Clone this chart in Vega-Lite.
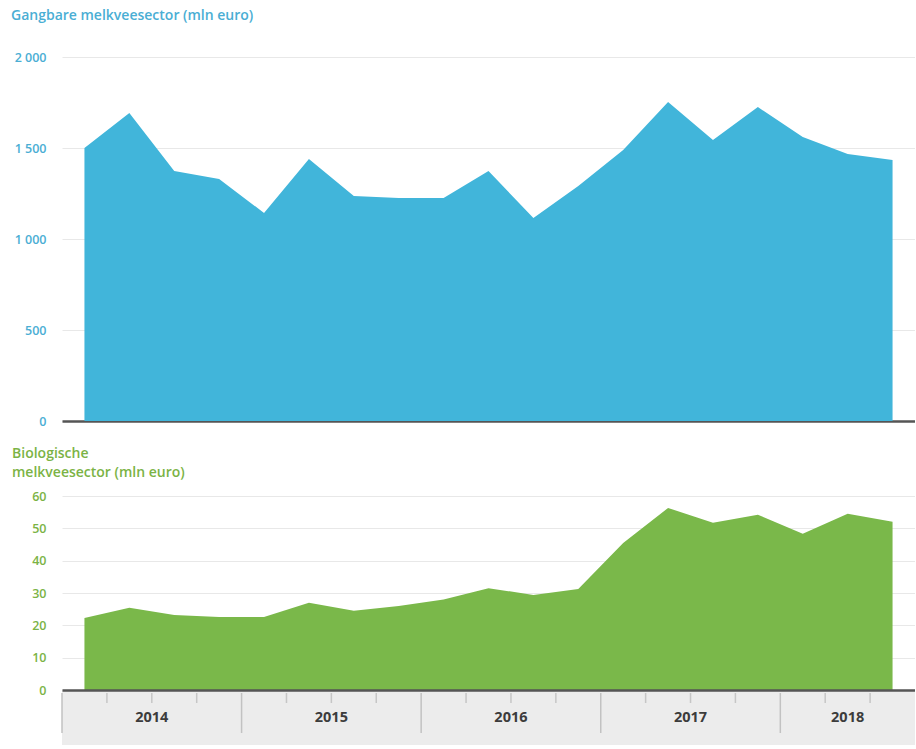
{
  "$schema": "https://vega.github.io/schema/vega-lite/v6.json",
  "padding": {"left": 5, "top": 8, "right": 0, "bottom": 0},
  "background": "white",
  "spacing": 19,
  "config": {
    "view": {"stroke": null},
    "font": "Open Sans",
    "axis": {"labelFont": "Open Sans"}
  },
  "datasets": {
    "gangbaar": [
      {"jaar": 2014, "kwartaal": 1, "t": 2014.125, "waarde": 1500},
      {"jaar": 2014, "kwartaal": 2, "t": 2014.375, "waarde": 1692},
      {"jaar": 2014, "kwartaal": 3, "t": 2014.625, "waarde": 1374},
      {"jaar": 2014, "kwartaal": 4, "t": 2014.875, "waarde": 1330},
      {"jaar": 2015, "kwartaal": 1, "t": 2015.125, "waarde": 1143},
      {"jaar": 2015, "kwartaal": 2, "t": 2015.375, "waarde": 1440},
      {"jaar": 2015, "kwartaal": 3, "t": 2015.625, "waarde": 1236},
      {"jaar": 2015, "kwartaal": 4, "t": 2015.875, "waarde": 1225},
      {"jaar": 2016, "kwartaal": 1, "t": 2016.125, "waarde": 1225},
      {"jaar": 2016, "kwartaal": 2, "t": 2016.375, "waarde": 1374},
      {"jaar": 2016, "kwartaal": 3, "t": 2016.625, "waarde": 1115},
      {"jaar": 2016, "kwartaal": 4, "t": 2016.875, "waarde": 1291},
      {"jaar": 2017, "kwartaal": 1, "t": 2017.125, "waarde": 1489},
      {"jaar": 2017, "kwartaal": 2, "t": 2017.375, "waarde": 1753},
      {"jaar": 2017, "kwartaal": 3, "t": 2017.625, "waarde": 1544},
      {"jaar": 2017, "kwartaal": 4, "t": 2017.875, "waarde": 1725},
      {"jaar": 2018, "kwartaal": 1, "t": 2018.125, "waarde": 1560},
      {"jaar": 2018, "kwartaal": 2, "t": 2018.375, "waarde": 1467},
      {"jaar": 2018, "kwartaal": 3, "t": 2018.625, "waarde": 1434}
    ],
    "biologisch": [
      {"jaar": 2014, "kwartaal": 1, "t": 2014.125, "waarde": 22.3},
      {"jaar": 2014, "kwartaal": 2, "t": 2014.375, "waarde": 25.4},
      {"jaar": 2014, "kwartaal": 3, "t": 2014.625, "waarde": 23.2},
      {"jaar": 2014, "kwartaal": 4, "t": 2014.875, "waarde": 22.6},
      {"jaar": 2015, "kwartaal": 1, "t": 2015.125, "waarde": 22.6},
      {"jaar": 2015, "kwartaal": 2, "t": 2015.375, "waarde": 27},
      {"jaar": 2015, "kwartaal": 3, "t": 2015.625, "waarde": 24.5},
      {"jaar": 2015, "kwartaal": 4, "t": 2015.875, "waarde": 26},
      {"jaar": 2016, "kwartaal": 1, "t": 2016.125, "waarde": 28},
      {"jaar": 2016, "kwartaal": 2, "t": 2016.375, "waarde": 31.5},
      {"jaar": 2016, "kwartaal": 3, "t": 2016.625, "waarde": 29.4},
      {"jaar": 2016, "kwartaal": 4, "t": 2016.875, "waarde": 31.2},
      {"jaar": 2017, "kwartaal": 1, "t": 2017.125, "waarde": 45.5},
      {"jaar": 2017, "kwartaal": 2, "t": 2017.375, "waarde": 56.3},
      {"jaar": 2017, "kwartaal": 3, "t": 2017.625, "waarde": 51.7},
      {"jaar": 2017, "kwartaal": 4, "t": 2017.875, "waarde": 54.2},
      {"jaar": 2018, "kwartaal": 1, "t": 2018.125, "waarde": 48.3},
      {"jaar": 2018, "kwartaal": 2, "t": 2018.375, "waarde": 54.5},
      {"jaar": 2018, "kwartaal": 3, "t": 2018.625, "waarde": 52}
    ],
    "jaren": [
      {"jaar": "2014", "begin": 2014, "eind": 2015, "midden": 2014.5},
      {"jaar": "2015", "begin": 2015, "eind": 2016, "midden": 2015.5},
      {"jaar": "2016", "begin": 2016, "eind": 2017, "midden": 2016.5},
      {"jaar": "2017", "begin": 2017, "eind": 2018, "midden": 2017.5},
      {"jaar": "2018", "begin": 2018, "eind": 2018.75, "midden": 2018.375}
    ],
    "kwartaalgrenzen": [
      {"t": 2014.25}, {"t": 2014.5}, {"t": 2014.75},
      {"t": 2015.25}, {"t": 2015.5}, {"t": 2015.75},
      {"t": 2016.25}, {"t": 2016.5}, {"t": 2016.75},
      {"t": 2017.25}, {"t": 2017.5}, {"t": 2017.75},
      {"t": 2018.25}, {"t": 2018.5}
    ]
  },
  "vconcat": [
    {
      "width": 853,
      "height": 364,
      "title": {"text": "Gangbare melkveesector (mln euro)", "anchor": "start", "frame": "group", "dx": -51, "fontSize": 14, "fontWeight": 600, "color": "#4aaed4", "offset": 28.5},
      "data": {"name": "gangbaar"},
      "mark": {"type": "area", "color": "#41b5da", "opacity": 1},
      "encoding": {
        "x": {"field": "t", "type": "quantitative", "scale": {"domain": [2014, 2018.75], "nice": false, "zero": false},
              "axis": {"labels": false, "ticks": false, "grid": false, "domainColor": "#555555", "domainWidth": 2.5, "title": null}},
        "y": {"field": "waarde", "type": "quantitative", "scale": {"domain": [0, 2000], "nice": false},
              "axis": {"values": [0, 500, 1000, 1500, 2000], "title": null, "ticks": false, "domain": false, "gridColor": "#e8e8e8", "labelColor": "#4aaed4", "labelFontSize": 12.5, "labelFontWeight": 600, "labelPadding": 16, "minExtent": 57, "maxExtent": 57,
                       "labelExpr": "datum.value >= 1000 ? floor(datum.value/1000) + ' ' + format(datum.value % 1000, '03d') : format(datum.value, 'd')"}}
      }
    },
    {
      "spacing": 0,
      "bounds": "flush",
      "vconcat": [
        {
          "width": 853,
          "height": 194,
          "title": {"text": ["Biologische", "melkveesector (mln euro)"], "anchor": "start", "frame": "group", "dx": -50, "fontSize": 14, "fontWeight": 600, "color": "#7bb345", "lineHeight": 19, "offset": 10},
          "data": {"name": "biologisch"},
          "mark": {"type": "area", "color": "#7ab84a", "opacity": 1},
          "encoding": {
            "x": {"field": "t", "type": "quantitative", "scale": {"domain": [2014, 2018.75], "nice": false, "zero": false},
                  "axis": null},
            "y": {"field": "waarde", "type": "quantitative", "scale": {"domain": [0, 60], "nice": false},
                  "axis": {"values": [0, 10, 20, 30, 40, 50, 60], "title": null, "ticks": false, "domain": false, "gridColor": "#e8e8e8", "labelColor": "#7bb345", "labelFontSize": 12.5, "labelFontWeight": 600, "labelPadding": 16, "minExtent": 57, "maxExtent": 57}}
          }
        },
        {
          "width": 853,
          "height": 55,
          "view": {"fill": "#ececec", "stroke": null},
          "layer": [
            {
              "data": {"name": "kwartaalgrenzen"},
              "mark": {"type": "rule", "color": "#c6c6c6", "strokeWidth": 1.5},
              "encoding": {
                "x": {"field": "t", "type": "quantitative", "scale": {"domain": [2014, 2018.75], "nice": false, "zero": false},
                      "axis": {"orient": "top", "labels": false, "ticks": false, "grid": false, "domainColor": "#555555", "domainWidth": 2.5, "title": null}},
                "y": {"datum": 3, "type": "quantitative", "scale": {"domain": [0, 55], "reverse": true, "nice": false}, "axis": null},
                "y2": {"datum": 13}
              }
            },
            {
              "data": {"name": "jaren"},
              "mark": {"type": "rule", "color": "#c2c2c2", "strokeWidth": 1.5},
              "encoding": {
                "x": {"field": "begin", "type": "quantitative"},
                "y": {"datum": 3, "type": "quantitative"},
                "y2": {"datum": 43}
              }
            },
            {
              "data": {"name": "jaren"},
              "mark": {"type": "text", "fontSize": 14.5, "fontWeight": "bold", "color": "#3c3c3c", "baseline": "middle", "align": "center"},
              "encoding": {
                "x": {"field": "midden", "type": "quantitative"},
                "y": {"datum": 28, "type": "quantitative"},
                "text": {"field": "jaar"}
              }
            }
          ]
        }
      ]
    }
  ]
}
